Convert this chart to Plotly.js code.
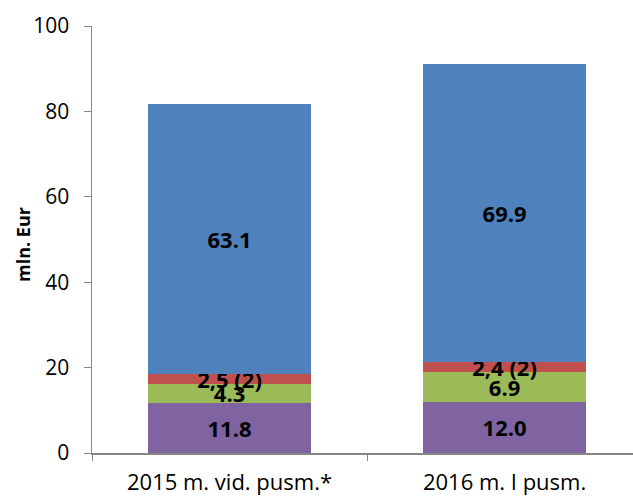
<!DOCTYPE html>
<html>
<head>
<meta charset="utf-8">
<script src="https://cdn.plot.ly/plotly-3.0.1.min.js"></script>
<style>html,body{margin:0;padding:0;background:#fff;}#chart{width:633px;height:498px;}</style>
</head>
<body>
<div id="chart"></div>
<script>
const categories = ["2015 m. vid. pusm.*", "2016 m. I pusm."];
const purpleValues = [11.8, 12.0];
const greenValues = [4.3, 6.9];
const redValues = [2.5, 2.4];
const blueValues = [63.1, 69.9];
const purpleLabels = ["11.8", "12.0"];
const greenLabels = ["4.3", "6.9"];
const redLabels = ["2,5 (2)", "2,4 (2)"];
const blueLabels = ["63.1", "69.9"];
const yTicks = [0, 20, 40, 60, 80, 100];

const font = "'Open Sans', 'Noto Sans', sans-serif";
function mk(vals, labels, color) {
  return {
    type: "bar", x: categories, y: vals, text: labels,
    textposition: "inside", insidetextanchor: "middle", constraintext: "none",
    textfont: {family: font, size: 22, color: "#000", weight: "bold"},
    marker: {color: color, line: {width: 0}},
    hoverinfo: "none", cliponaxis: false
  };
}
const data = [
  mk(purpleValues, purpleLabels, "#8064A2"),
  mk(greenValues, greenLabels, "#9BBB59"),
  mk(redValues, redLabels, "#C0504D"),
  mk(blueValues, blueLabels, "#4F81BD")
];
const layout = {
  width: 633, height: 498,
  margin: {l: 92, r: 0, t: 26, b: 45},
  barmode: "stack", bargap: 0.407, showlegend: false,
  paper_bgcolor: "#fff", plot_bgcolor: "#fff",
  font: {family: font, size: 22, color: "#000"},
  xaxis: {
    range: [-0.5, 1.467], showline: true, linecolor: "#868686", linewidth: 2,
    ticks: "outside", tickson: "boundaries", ticklen: 6, tickcolor: "#868686",
    tickfont: {family: font, size: 22}, ticklabelstandoff: 9, showgrid: false
  },
  yaxis: {
    range: [0, 100], tickvals: yTicks, showline: true, linecolor: "#868686", linewidth: 1.5,
    ticks: "outside", ticklen: 7, tickcolor: "#868686", showgrid: false, zeroline: false,
    tickfont: {family: font, size: 21}, ticklabelstandoff: 10
  },
  annotations: [{
    text: "mln. Eur", xref: "paper", yref: "paper",
    x: (23 - 92) / 541, y: (453 - 245) / 427, xanchor: "center", yanchor: "middle",
    textangle: -90, showarrow: false,
    font: {family: font, size: 18, weight: "bold", color: "#000"}
  }]
};
Plotly.newPlot("chart", data, layout, {staticPlot: true});
</script>
</body>
</html>
